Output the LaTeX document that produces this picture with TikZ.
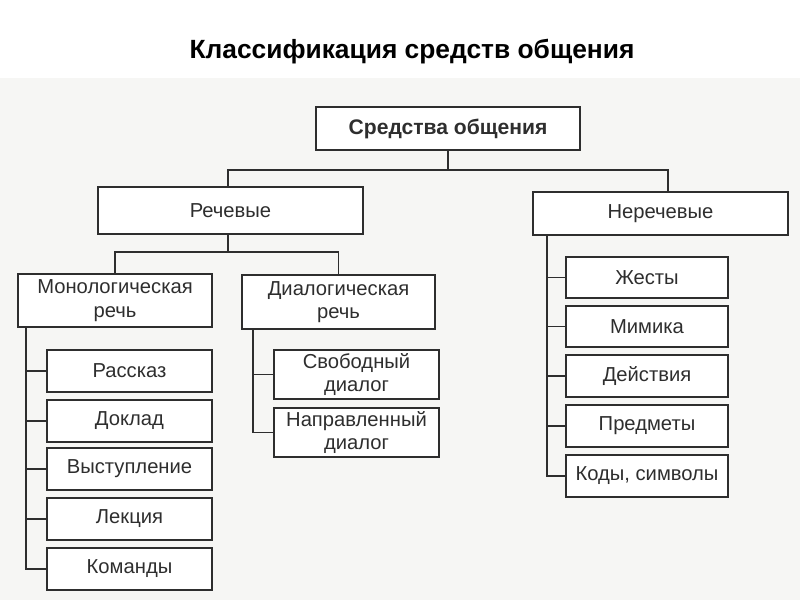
\documentclass[tikz,border=0pt]{standalone}
\usepackage{fontspec}
\setmainfont{Liberation Sans}
\definecolor{ink}{HTML}{2E2E2E}
\definecolor{scan}{HTML}{F6F6F4}
\tikzset{
  box/.style={draw=ink, fill=white, line width=1pt, text=ink, align=center,
    inner sep=0pt, font=\fontsize{11.5}{13.5}\selectfont},
  size/.style 2 args={minimum width={#1*0.02cm}, minimum height={#2*0.02cm}},
  link/.style={draw=ink, line width=0.9pt}
}
\begin{document}
\begin{tikzpicture}[x=0.02cm, y=-0.02cm]
  % page and scanned area
  \useasboundingbox (0,0) rectangle (800,600);
  \fill[white] (0,0) rectangle (800,600);
  \fill[scan] (0,78) rectangle (800,600);

  % title
  \node[font=\fontsize{15}{18}\selectfont\bfseries] (title) at (412,52) {Классификация средств общения};

  % top levels
  \node[box, size={264}{43}, font=\fontsize{12}{14}\selectfont\bfseries] (root) at (448,128.5) {Средства общения};
  \node[box, size={265}{47}] (verbal) at (230.5,210.5) {Речевые};
  \node[box, size={255}{43}] (nonverbal) at (660.5,213.5) {Неречевые};

  % kinds of speech
  \node[box, size={194}{53}] (mono) at (115,300.5) {Монологическая\\речь};
  \node[box, size={193}{54}] (dia) at (338.5,302) {Диалогическая\\речь};

  % monologue forms
  \node[box, size={165}{42}] (m1) at (129.5,371) {Рассказ};
  \node[box, size={165}{42}] (m2) at (129.5,421) {Доклад};
  \node[box, size={165}{42}] (m3) at (129.5,469) {Выступление};
  \node[box, size={165}{42}] (m4) at (129.5,519) {Лекция};
  \node[box, size={165}{42}] (m5) at (129.5,569) {Команды};

  % dialogue forms
  \node[box, size={165}{49}] (d1) at (356.5,374.5) {Свободный\\диалог};
  \node[box, size={165}{49}] (d2) at (356.5,432.5) {Направленный\\диалог};

  % non-verbal means
  \node[box, size={162}{41}] (n1) at (647,277.5) {Жесты};
  \node[box, size={162}{41}] (n2) at (647,326.5) {Мимика};
  \node[box, size={162}{42}] (n3) at (647,376) {Действия};
  \node[box, size={162}{42}] (n4) at (647,426) {Предметы};
  \node[box, size={162}{42}] (n5) at (647,476) {Коды, символы};

  % tree connectors
  \coordinate (bus1) at (448,170);
  \coordinate (bus2) at (228,252);
  \draw[link] (root.south) -- (bus1);
  \draw[link] (verbal.north -| 228,0) |- (bus1) -| (nonverbal.north -| 668,0);
  \draw[link] (verbal.south -| bus2) -- (bus2);
  \draw[link] (mono.north) |- (bus2) -| (dia.north);

  % side trunks
  \coordinate (mt) at (26,0);
  \coordinate (dt) at (253,0);
  \coordinate (nt) at (547,0);
  \draw[link] (mono.south -| mt) |- (m5.west);
  \foreach \c in {m1,m2,m3,m4}
    \draw[link] (\c.west -| mt) -- (\c.west);
  \draw[link] (dia.south -| dt) |- (d2.west);
  \draw[link] (d1.west -| dt) -- (d1.west);
  \draw[link] (nonverbal.south -| nt) |- (n5.west);
  \foreach \c in {n1,n2,n3,n4}
    \draw[link] (\c.west -| nt) -- (\c.west);
\end{tikzpicture}
\end{document}
